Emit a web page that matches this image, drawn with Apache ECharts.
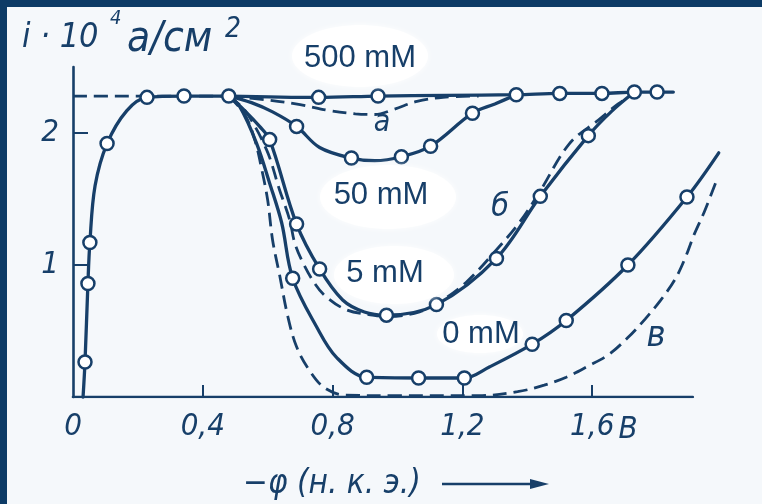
<!DOCTYPE html>
<html>
<head>
<meta charset="utf-8">
<script src="https://cdn.jsdelivr.net/npm/echarts@6/dist/echarts.min.js"></script>
<style>
  html, body { margin: 0; padding: 0; background: #f5f8fb; }
  #chart { width: 762px; height: 504px; }
</style>
</head>
<body>
<div id="chart"></div>
<script>
// Polarisation curves: x = −φ (V vs n.c.e.), y = i·10^4 (A/cm²).
// Each point is [x, y, measured]; measured points get an open circle.

const riseBranch = [
  [0.031, 0.0, 0], [0.037, 0.265, 1], [0.046, 0.86, 1], [0.052, 1.17, 1],
  [0.068, 1.60, 0], [0.105, 1.92, 1], [0.166, 2.17, 0], [0.228, 2.27, 1],
  [0.342, 2.28, 1], [0.48, 2.28, 1]
];

const plateauDash = [[0, 2.28], [0.48, 2.28]];

const curve500mM = [
  [0.48, 2.28, 0], [0.757, 2.27, 1], [0.94, 2.28, 1], [1.15, 2.285, 0],
  [1.366, 2.29, 1], [1.50, 2.30, 1], [1.63, 2.30, 1], [1.73, 2.31, 1],
  [1.80, 2.31, 1], [1.85, 2.31, 0]
];

const curve50mM = [
  [0.48, 2.28, 0], [0.55, 2.23, 0], [0.615, 2.16, 0], [0.689, 2.05, 1],
  [0.76, 1.89, 0], [0.858, 1.81, 1], [0.93, 1.79, 0], [1.012, 1.82, 1],
  [1.102, 1.90, 1], [1.231, 2.15, 1], [1.30, 2.22, 0], [1.366, 2.29, 0]
];

const curve5mM = [
  [0.48, 2.28, 0], [0.529, 2.17, 0], [0.575, 2.05, 0], [0.606, 1.95, 1],
  [0.689, 1.31, 1], [0.76, 0.97, 1], [0.831, 0.735, 0], [0.898, 0.644, 0],
  [0.966, 0.62, 1], [1.12, 0.70, 1], [1.305, 1.05, 1], [1.44, 1.52, 1],
  [1.588, 1.98, 1], [1.658, 2.16, 0], [1.73, 2.31, 0]
];

const curve0mM = [
  [0.48, 2.28, 0], [0.514, 2.20, 0], [0.566, 1.92, 0], [0.606, 1.62, 0],
  [0.643, 1.32, 0], [0.677, 0.90, 1], [0.751, 0.53, 0], [0.812, 0.30, 0],
  [0.905, 0.15, 1], [1.065, 0.144, 1], [1.206, 0.144, 1], [1.283, 0.227, 0],
  [1.415, 0.40, 1], [1.52, 0.58, 1], [1.71, 1.00, 1], [1.892, 1.515, 1],
  [1.99, 1.85, 0]
];

// dashed curves а, б, в
const dashA = [
  [0.48, 2.28], [0.60, 2.25], [0.70, 2.215], [0.79, 2.17], [0.87, 2.145],
  [0.93, 2.14], [0.99, 2.18], [1.06, 2.24], [1.14, 2.27], [1.25, 2.28]
];

const dashB = [
  [0.48, 2.28], [0.53, 2.17], [0.597, 1.87], [0.635, 1.58], [0.668, 1.34],
  [0.683, 1.17], [0.708, 1.02], [0.745, 0.86], [0.78, 0.76], [0.843, 0.66],
  [0.923, 0.62], [0.975, 0.61], [1.068, 0.645], [1.13, 0.72], [1.212, 0.87],
  [1.314, 1.14], [1.375, 1.32], [1.437, 1.55], [1.53, 1.92], [1.62, 2.10],
  [1.68, 2.22], [1.73, 2.30]
];

const dashV = [
  [0.48, 2.28], [0.529, 2.14], [0.56, 1.95], [0.582, 1.72], [0.60, 1.49],
  [0.615, 1.19], [0.637, 0.92], [0.662, 0.61], [0.689, 0.38], [0.729, 0.20],
  [0.775, 0.07], [0.837, 0.015], [1.0, 0.01], [1.25, 0.01], [1.37, 0.04],
  [1.452, 0.09], [1.52, 0.15], [1.588, 0.235], [1.65, 0.32], [1.71, 0.45],
  [1.763, 0.59], [1.81, 0.73], [1.855, 0.89], [1.886, 1.05], [1.914, 1.23],
  [1.945, 1.40], [1.98, 1.62]
];

// the drawn x-axis stops short of the plot edge
const xAxisLine = [[0, 0], [1.91, 0]];

const xTickValues = [0, 0.4, 0.8, 1.2, 1.6];
const xTickLabels = ['0', '0,4', '0,8', '1,2', '1,6'];
const yTickValues = [1, 2];
const yTickLabels = ['1', '2'];

const ink = '#173f69';
const hand = "'Liberation Sans Narrow','DejaVu Sans Condensed','Liberation Sans',sans-serif";
const sans = "'Liberation Sans',Arial,sans-serif";

function solidCurve(name, pts) {
  return {
    name, type: 'line', clip: false, smooth: 0.35,
    showAllSymbol: true, symbolSize: 13, z: 4,
    data: pts.map(p => ({ value: [p[0], p[1]], symbol: p[2] ? 'circle' : 'none' })),
    lineStyle: { color: ink, width: 3.3, cap: 'round' },
    itemStyle: { color: '#ffffff', borderColor: ink, borderWidth: 2.5 },
    emphasis: { disabled: true }, silent: true, animation: false
  };
}

function dashedCurve(name, pts) {
  return {
    name, type: 'line', clip: false, smooth: 0.35,
    symbol: 'none', z: 3, data: pts,
    lineStyle: { color: ink, width: 2.8, type: [14, 7] },
    emphasis: { disabled: true }, silent: true, animation: false
  };
}

function label(text, x, y, font, align) {
  return {
    type: 'text', x, y, z: 120, silent: true,
    style: { text, font, fill: ink, align: align || 'center', verticalAlign: 'middle' }
  };
}

function blob(cx, cy, rx, ry) {
  return {
    type: 'ellipse', z: 110, silent: true,
    shape: { cx, cy, rx, ry },
    style: { fill: '#ffffff', shadowBlur: 6, shadowColor: 'rgba(255,255,255,0.9)' }
  };
}

const chart = echarts.init(document.getElementById('chart'), null, { renderer: 'canvas' });

chart.setOption({
  backgroundColor: '#f5f8fb',
  animation: false,
  grid: { left: 73, right: 40, top: 67, bottom: 107 },
  xAxis: {
    type: 'value', min: 0, max: 2.0,
    axisLine: { show: false },
    axisTick: { show: true, inside: true, length: 12, customValues: xTickValues.slice(1),
                lineStyle: { color: ink, width: 2 } },
    axisLabel: {
      customValues: xTickValues, margin: 14, color: ink,
      fontFamily: hand, fontStyle: 'italic', fontSize: 31,
      formatter: v => xTickLabels[xTickValues.findIndex(t => Math.abs(t - v) < 1e-6)] || ''
    },
    splitLine: { show: false }
  },
  yAxis: {
    type: 'value', min: 0, max: 2.5,
    axisLine: { show: true, lineStyle: { color: ink, width: 2.6, cap: 'round' } },
    axisTick: { show: true, inside: true, length: 15, customValues: yTickValues,
                lineStyle: { color: ink, width: 2 } },
    axisLabel: {
      customValues: yTickValues, margin: 14, color: ink,
      fontFamily: hand, fontStyle: 'italic', fontSize: 31,
      formatter: v => yTickLabels[yTickValues.findIndex(t => Math.abs(t - v) < 1e-6)] || ''
    },
    splitLine: { show: false }
  },
  series: [
    {
      name: 'x axis', type: 'line', symbol: 'none', data: xAxisLine, z: 2,
      lineStyle: { color: ink, width: 2.6, cap: 'round' },
      emphasis: { disabled: true }, silent: true, animation: false
    },
    dashedCurve('plateau', plateauDash),
    dashedCurve('а', dashA),
    dashedCurve('б', dashB),
    dashedCurve('в', dashV),
    solidCurve('0 mM', curve0mM),
    solidCurve('5 mM', curve5mM),
    solidCurve('50 mM', curve50mM),
    solidCurve('500 mM', curve500mM),
    solidCurve('rise', riseBranch)
  ],
  graphic: [
    // frame bars
    { type: 'rect', z: 200, silent: true, shape: { x: 0, y: 0, width: 762, height: 7 }, style: { fill: '#0d3b66' } },
    { type: 'rect', z: 200, silent: true, shape: { x: 0, y: 0, width: 7, height: 504 }, style: { fill: '#0d3b66' } },

    // y-axis title  i·10⁴ а/см²
    label('i · 10', 22, 38, `italic 34px ${hand}`, 'left'),
    label('4', 110, 19, `italic 20px ${hand}`, 'left'),
    label('а/см', 127, 40, `italic 42px ${hand}`, 'left'),
    label('2', 225, 30, `italic 28px ${hand}`, 'left'),

    // x-axis title and arrow
    label('−φ (н. к. э.)', 243, 484, `italic 33px ${hand}`, 'left'),
    { type: 'line', z: 120, silent: true, shape: { x1: 442, y1: 484, x2: 538, y2: 484 },
      style: { stroke: ink, lineWidth: 2.5 } },
    { type: 'polygon', z: 120, silent: true, shape: { points: [[530, 479], [549, 484], [530, 489]] },
      style: { fill: ink } },
    label('В', 628, 430, `italic 31px ${hand}`),

    // curve letters
    label('а', 382, 123, `italic 30px ${hand}`),
    label('б', 500, 208, `italic 32px ${hand}`),
    label('в', 656, 337, `italic 36px ${hand}`),

    // concentration tags
    blob(360, 56, 68, 31),
    label('500 mM', 360, 58, `31px ${sans}`),
    blob(388, 197, 68, 32),
    label('50 mM', 381, 195, `31px ${sans}`),
    blob(394, 275, 60, 29),
    label('5 mM', 385, 273, `31px ${sans}`),
    blob(480, 334, 43, 19),
    label('0 mM', 481, 334, `31px ${sans}`)
  ]
});
</script>
</body>
</html>
